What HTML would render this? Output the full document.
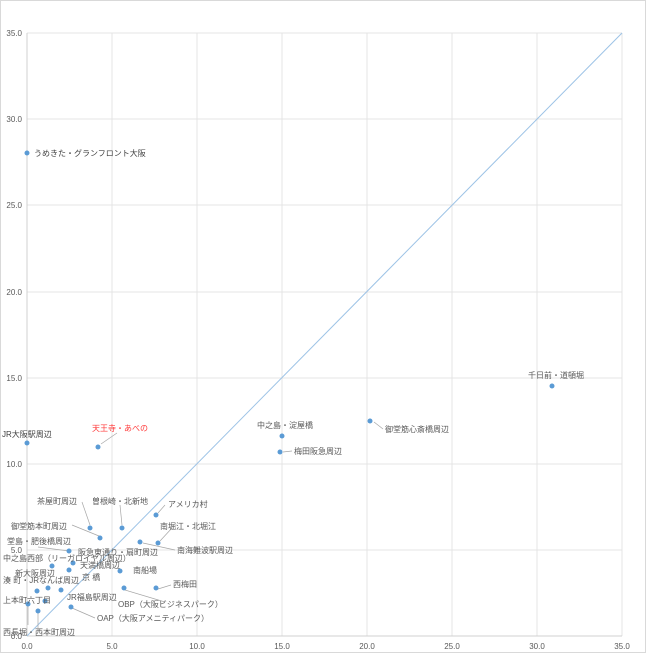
<!DOCTYPE html>
<html><head><meta charset="utf-8"><style>
html,body{margin:0;padding:0;background:#fff}
svg text{font-family:"Liberation Sans","Noto Sans CJK JP",sans-serif;font-size:8px;fill:#595959}
</style></head><body>
<svg width="646" height="653" xmlns="http://www.w3.org/2000/svg">
<rect x="0.5" y="0.5" width="645" height="652" fill="#fff" stroke="#d9d9d9"/>
<g stroke="#e4e4e4" stroke-width="1">
<line x1="112" y1="33" x2="112" y2="636"/><line x1="197" y1="33" x2="197" y2="636"/>
<line x1="282" y1="33" x2="282" y2="636"/><line x1="367" y1="33" x2="367" y2="636"/>
<line x1="452" y1="33" x2="452" y2="636"/><line x1="537" y1="33" x2="537" y2="636"/>
<line x1="622" y1="33" x2="622" y2="636"/>
<line x1="27" y1="33" x2="622" y2="33"/><line x1="27" y1="119" x2="622" y2="119"/>
<line x1="27" y1="205" x2="622" y2="205"/><line x1="27" y1="292" x2="622" y2="292"/>
<line x1="27" y1="378" x2="622" y2="378"/><line x1="27" y1="464" x2="622" y2="464"/>
<line x1="27" y1="550" x2="622" y2="550"/>
</g>
<line x1="27" y1="33" x2="27" y2="636" stroke="#d0d0d0"/>
<line x1="27" y1="636" x2="622" y2="636" stroke="#d0d0d0"/>
<line x1="27" y1="636" x2="622" y2="33" stroke="#9dc3e6" stroke-width="1"/>
<g text-anchor="end">
<text x="22" y="36">35.0</text><text x="22" y="122">30.0</text><text x="22" y="208">25.0</text>
<text x="22" y="295">20.0</text><text x="22" y="381">15.0</text><text x="22" y="467">10.0</text>
<text x="22" y="553">5.0</text><text x="22" y="639">0.0</text>
</g>
<g text-anchor="middle">
<text x="27" y="649">0.0</text><text x="112" y="649">5.0</text><text x="197" y="649">10.0</text>
<text x="282" y="649">15.0</text><text x="367" y="649">20.0</text><text x="452" y="649">25.0</text>
<text x="537" y="649">30.0</text><text x="622" y="649">35.0</text>
</g>
<g stroke="#a6a6a6" stroke-width="0.7" fill="none">
<line x1="101" y1="444" x2="117" y2="433"/>
<line x1="374" y1="422" x2="383" y2="429"/>
<line x1="283" y1="452" x2="292" y2="451"/>
<line x1="158" y1="513" x2="165" y2="505"/>
<line x1="122" y1="525" x2="120" y2="505"/>
<line x1="90" y1="525" x2="82" y2="502"/>
<line x1="99" y1="536" x2="72" y2="525"/>
<line x1="160" y1="541" x2="172" y2="528"/>
<line x1="143" y1="543" x2="175" y2="550"/>
<line x1="69" y1="551" x2="38" y2="547"/>
<line x1="158" y1="589" x2="171" y2="585"/>
<line x1="125" y1="590" x2="165" y2="602"/>
<line x1="72" y1="608" x2="95" y2="618"/>
<line x1="38" y1="612" x2="38" y2="628"/>
<line x1="28" y1="605" x2="28" y2="625"/>
</g>
<g fill="#5b9bd5">
<circle cx="27" cy="153" r="2.5"/><circle cx="27" cy="443" r="2.5"/><circle cx="98" cy="447" r="2.5"/>
<circle cx="552" cy="386" r="2.5"/><circle cx="370" cy="421" r="2.5"/><circle cx="282" cy="436" r="2.5"/>
<circle cx="280" cy="452" r="2.5"/><circle cx="156" cy="515" r="2.5"/><circle cx="122" cy="528" r="2.5"/>
<circle cx="90" cy="528" r="2.5"/><circle cx="100" cy="538" r="2.5"/><circle cx="158" cy="543" r="2.5"/>
<circle cx="140" cy="542" r="2.5"/><circle cx="69" cy="551" r="2.5"/><circle cx="73" cy="563" r="2.5"/>
<circle cx="52" cy="566" r="2.5"/><circle cx="69" cy="570" r="2.5"/><circle cx="120" cy="571" r="2.5"/>
<circle cx="48" cy="588" r="2.5"/><circle cx="37" cy="591" r="2.5"/><circle cx="61" cy="590" r="2.5"/>
<circle cx="156" cy="588" r="2.5"/><circle cx="124" cy="588" r="2.5"/><circle cx="45" cy="601" r="2.5"/>
<circle cx="71" cy="607" r="2.5"/><circle cx="28" cy="604" r="2.5"/><circle cx="38" cy="611" r="2.5"/>
</g>
<g fill="#404040">
<text x="34" y="156" style="fill:#404040">うめきた・グランフロント大阪</text>
<text x="2" y="437" style="fill:#404040">JR大阪駅周辺</text>
</g>
<text x="92" y="431" style="fill:#ff3b3b">天王寺・あべの</text>
<text x="528" y="378">千日前・道頓堀</text>
<text x="385" y="432">御堂筋心斎橋周辺</text>
<text x="257" y="428">中之島・淀屋橋</text>
<text x="294" y="454">梅田阪急周辺</text>
<text x="168" y="507">アメリカ村</text>
<text x="92" y="504">曽根崎・北新地</text>
<text x="37" y="504">茶屋町周辺</text>
<text x="11" y="529">御堂筋本町周辺</text>
<text x="160" y="529">南堀江・北堀江</text>
<text x="177" y="553">南海難波駅周辺</text>
<text x="7" y="544">堂島・肥後橋周辺</text>
<text x="78" y="555">阪急東通り・扇町周辺</text>
<text x="3" y="561">中之島西部（リーガロイヤル周辺）</text>
<text x="80" y="568">天満橋周辺</text>
<text x="133" y="573">南船場</text>
<text x="15" y="576">新大阪周辺</text>
<text x="3" y="583">湊 町・JRなんば周辺</text>
<text x="82" y="580">京 橋</text>
<text x="173" y="587">西梅田</text>
<text x="118" y="607">OBP（大阪ビジネスパーク）</text>
<text x="67" y="600">JR福島駅周辺</text>
<text x="3" y="603">上本町六丁目</text>
<text x="97" y="621">OAP（大阪アメニティパーク）</text>
<text x="3" y="635">西長堀・西本町周辺</text>
</svg>
</body></html>
